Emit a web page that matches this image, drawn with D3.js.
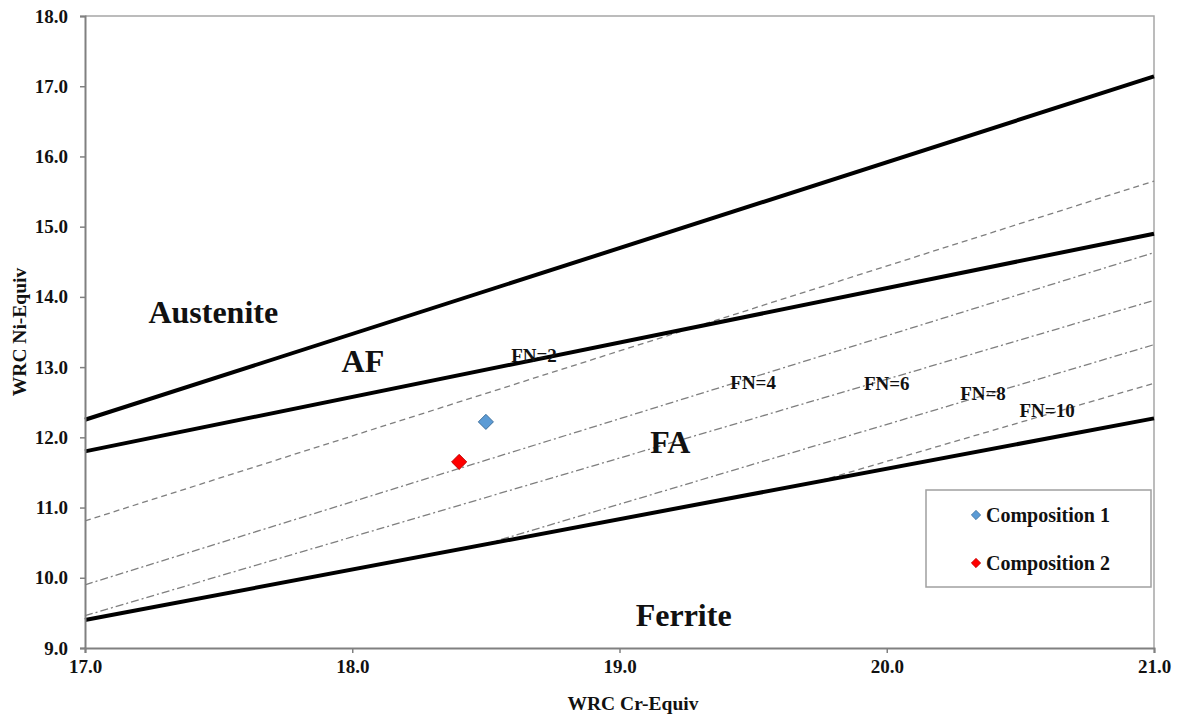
<!DOCTYPE html>
<html>
<head>
<meta charset="utf-8">
<script src="https://cdn.jsdelivr.net/npm/d3@7"></script>
<style>
  body { margin: 0; background: #fff; }
  svg text { font-family: "Liberation Serif", "Times New Roman", serif; font-weight: bold; }
</style>
</head>
<body>
<svg id="main" width="1177" height="717"></svg>
<script>
const margin = { top: 16, right: 23, bottom: 69, left: 85 };
const width = 1177 - margin.left - margin.right;
const height = 717 - margin.top - margin.bottom;

// axis ticks
const xTicks = [17, 18, 19, 20, 21];
const yTicks = [9, 10, 11, 12, 13, 14, 15, 16, 17, 18];

// phase boundaries: from x=17 to x=21
const boundaryStartY = [12.25, 11.80, 9.40];
const boundaryEndY = [17.14, 14.90, 12.27];

// ferrite number iso-lines (end at x=21)
const fnLabels = ['FN=2', 'FN=4', 'FN=6', 'FN=8', 'FN=10'];
const fnStartX = [17, 17, 17, 18.5, 19.75];
const fnStartY = [10.81, 9.90, 9.46, 10.48, 11.38];
const fnEndY = [15.65, 14.63, 13.95, 13.32, 12.77];
const fnLabelX = [18.68, 19.50, 20.00, 20.36, 20.60];
const fnLabelY = [13.16, 12.78, 12.77, 12.62, 12.38];

// phase region labels
const regionNames = ['Austenite', 'AF', 'FA', 'Ferrite'];
const regionX = [17.48, 18.04, 19.19, 19.24];
const regionY = [13.79, 13.08, 11.93, 9.47];

// compositions
const compNames = ['Composition 1', 'Composition 2'];
const compCr = [18.5, 18.4];
const compNi = [12.22, 11.65];
const compColors = ['#5b9bd5', '#ff0000'];
const compStroke = ['#41719c', '#c00000'];

var svg = d3.select('#main');
var g = svg.append('g').attr('transform', `translate(${margin.left},${margin.top})`);

var xScale = d3.scaleLinear().domain([17, 21]).range([0, width]);
var yScale = d3.scaleLinear().domain([9, 18]).range([height, 0]);

// frame (top + right)
g.append('path')
    .attr('d', `M0,0H${width}V${height}`)
    .attr('fill', 'none')
    .attr('stroke', '#a6a6a6')
    .attr('stroke-width', 1.5);

// FN lines
const fnDash = ['6,4', '8,3,2,3', '8,3,2,3', '8,3,2,3', '6,4'];
g.append('g')
    .selectAll('line')
    .data(fnLabels)
    .enter()
    .append('line')
    .attr('x1', (d, i) => xScale(fnStartX[i]))
    .attr('y1', (d, i) => yScale(fnStartY[i]))
    .attr('x2', xScale(21))
    .attr('y2', (d, i) => yScale(fnEndY[i]))
    .attr('stroke', '#7f7f7f')
    .attr('stroke-width', 1.3)
    .attr('stroke-dasharray', (d, i) => fnDash[i]);

// boundaries
g.append('g')
    .selectAll('line')
    .data(boundaryStartY)
    .enter()
    .append('line')
    .attr('x1', xScale(17))
    .attr('y1', d => yScale(d))
    .attr('x2', xScale(21))
    .attr('y2', (d, i) => yScale(boundaryEndY[i]))
    .attr('stroke', '#000')
    .attr('stroke-width', 4);

// FN labels
g.append('g')
    .selectAll('text')
    .data(fnLabels)
    .enter()
    .append('text')
    .attr('x', (d, i) => xScale(fnLabelX[i]))
    .attr('y', (d, i) => yScale(fnLabelY[i]))
    .attr('text-anchor', 'middle')
    .attr('dominant-baseline', 'central')
    .style('font-size', '19px')
    .attr('fill', '#111')
    .text(d => d);

// region labels
g.append('g')
    .selectAll('text')
    .data(regionNames)
    .enter()
    .append('text')
    .attr('x', (d, i) => xScale(regionX[i]))
    .attr('y', (d, i) => yScale(regionY[i]))
    .attr('text-anchor', 'middle')
    .attr('dominant-baseline', 'central')
    .style('font-size', '32px')
    .attr('fill', '#111')
    .text(d => d);

// composition points
const diamond = d3.symbol().type(d3.symbolDiamond2);
g.append('g')
    .selectAll('path')
    .data(compNames)
    .enter()
    .append('path')
    .attr('d', diamond.size(145)())
    .attr('transform', (d, i) => `translate(${xScale(compCr[i])},${yScale(compNi[i])})`)
    .attr('fill', (d, i) => compColors[i])
    .attr('stroke', (d, i) => compStroke[i])
    .attr('stroke-width', 1);

// axes
const xAxis = d3.axisBottom(xScale).tickValues(xTicks).tickFormat(d3.format('.1f')).tickSize(5);
const yAxis = d3.axisLeft(yScale).tickValues(yTicks).tickFormat(d3.format('.1f')).tickSize(5);

g.append('g')
    .attr('transform', `translate(0,${height})`)
    .call(xAxis)
    .call(a => a.select('.domain').attr('stroke', '#808080').attr('stroke-width', 2))
    .call(a => a.selectAll('.tick line').attr('stroke', '#808080').attr('stroke-width', 1.5))
    .call(a => a.selectAll('.tick text')
        .attr('y', 12)
        .attr('fill', '#111')
        .style('font-size', '19px')
        .style('font-family', '"Liberation Serif", serif'));

g.append('g')
    .call(yAxis)
    .call(a => a.select('.domain').attr('stroke', '#808080').attr('stroke-width', 2))
    .call(a => a.selectAll('.tick text')
        .attr('x', -17)
        .attr('fill', '#111')
        .style('font-size', '19px')
        .style('font-family', '"Liberation Serif", serif'))
    .call(a => a.selectAll('.tick line').attr('stroke', '#808080').attr('stroke-width', 1.5));

// axis titles
svg.append('text')
    .attr('x', 633)
    .attr('y', 710)
    .attr('text-anchor', 'middle')
    .style('font-size', '19.5px')
    .attr('fill', '#111')
    .text('WRC Cr-Equiv');

svg.append('text')
    .attr('transform', 'translate(26,332) rotate(-90)')
    .attr('text-anchor', 'middle')
    .style('font-size', '19.5px')
    .attr('fill', '#111')
    .text('WRC Ni-Equiv');

// legend
const legend = svg.append('g').attr('transform', 'translate(926,490)');
legend.append('rect')
    .attr('width', 225)
    .attr('height', 97)
    .attr('fill', '#fff')
    .attr('stroke', '#a0a0a0')
    .attr('stroke-width', 1.5);

const legendItem = legend.selectAll('g')
    .data(compNames)
    .enter()
    .append('g')
    .attr('transform', (d, i) => `translate(50,${25 + i * 48})`);

legendItem.append('path')
    .attr('d', diamond.size(55)())
    .attr('fill', (d, i) => compColors[i])
    .attr('stroke', (d, i) => compStroke[i])
    .attr('stroke-width', 0.8);

legendItem.append('text')
    .attr('x', 10)
    .attr('dominant-baseline', 'central')
    .style('font-size', '20px')
    .attr('fill', '#111')
    .text(d => d);
</script>
</body>
</html>
